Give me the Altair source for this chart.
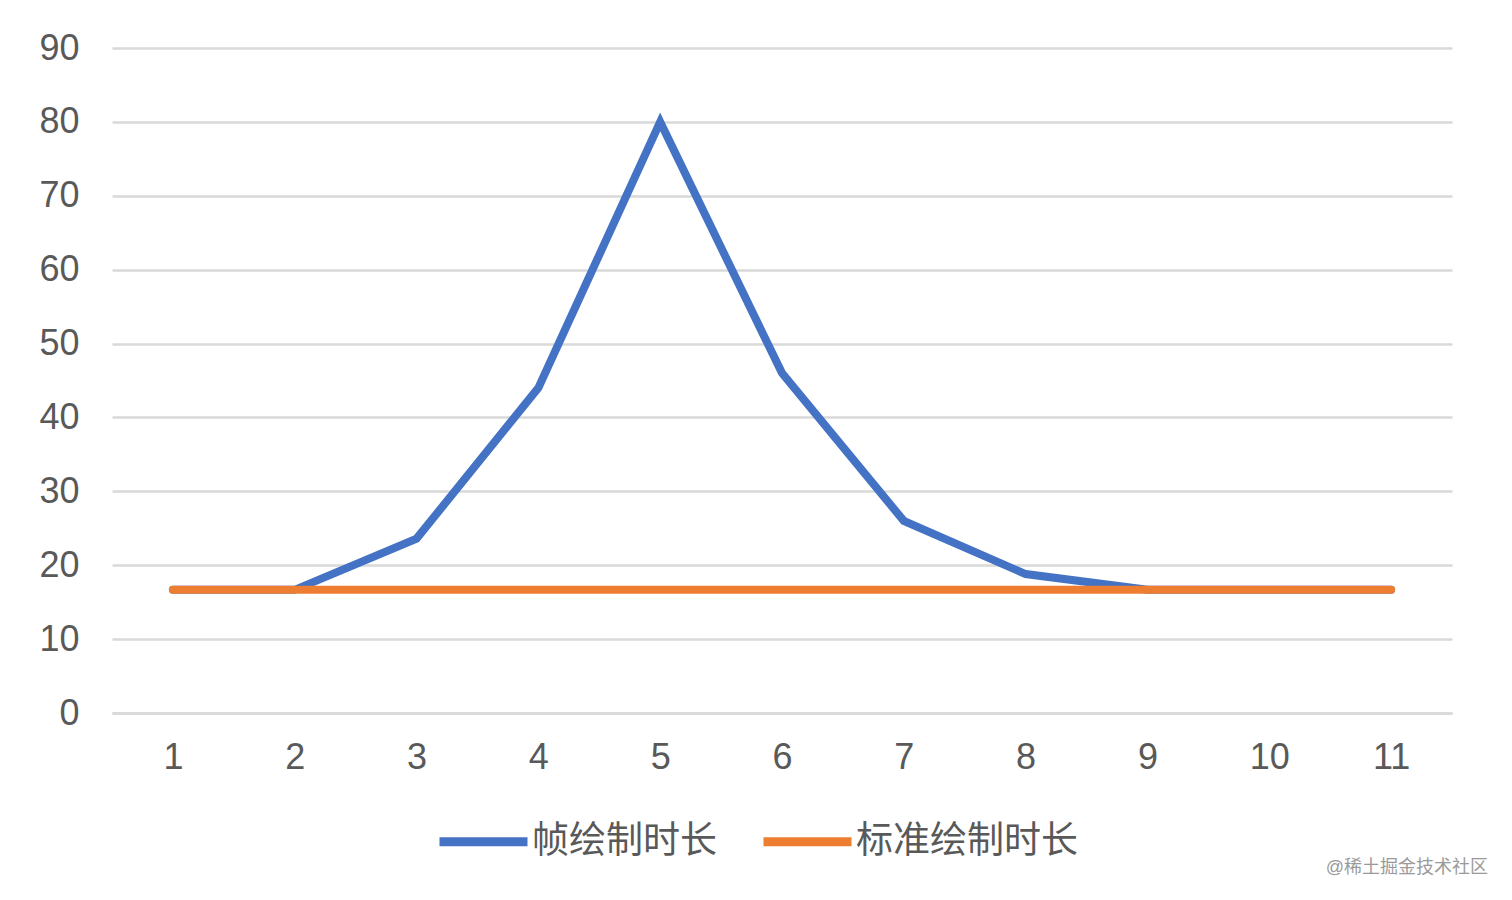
import altair as alt
import pandas as pd

frames = [str(i) for i in range(1, 12)]
frame_time = [16.67, 16.67, 23.6, 44.0, 80.0, 46.0, 26.0, 18.8, 16.67, 16.67, 16.67]
standard_time = [16.67] * 11
series_names = ["帧绘制时长", "标准绘制时长"]
series_colors = ["#4472C4", "#ED7D31"]

df_blue = pd.DataFrame({"frame": frames, "value": frame_time, "series": series_names[0]})
df_orange = pd.DataFrame({"frame": frames, "value": standard_time, "series": series_names[1]})

FONT = "Liberation Sans, Noto Sans CJK SC, sans-serif"

x_enc = alt.X("frame:O", sort=frames, scale=alt.Scale(type="point", padding=0.5),
              axis=alt.Axis(title=None, labelAngle=0, ticks=False, labelPadding=27,
                            labelFontSize=36, labelColor="#595959", labelFont=FONT,
                            domainColor="#d9d9d9", domainWidth=2.5, grid=False))
y_enc = alt.Y("value:Q", scale=alt.Scale(domain=[0, 90]),
              axis=alt.Axis(title=None, values=list(range(0, 100, 10)), ticks=False, domain=False,
                            labelPadding=33, labelFontSize=36, labelColor="#595959", labelFont=FONT,
                            gridColor="#d9d9d9", gridWidth=2.5))
color_enc = alt.Color("series:N", scale=alt.Scale(domain=series_names, range=series_colors),
                      legend=alt.Legend(title=None, orient="none", direction="horizontal",
                                        legendX=323, legendY=745, padding=0, symbolType="stroke",
                                        symbolSize=7744, symbolStrokeWidth=9,
                                        labelFontSize=37, labelColor="#595959", labelFont=FONT,
                                        labelOffset=0, columnPadding=28, labelLimit=400))

blue = alt.Chart(df_blue).mark_line(strokeWidth=8, strokeJoin="miter", strokeCap="round").encode(
    x=x_enc, y=y_enc, color=color_enc)
orange = alt.Chart(df_orange).mark_line(strokeWidth=8, strokeCap="round").encode(
    x=x_enc, y=y_enc, color=color_enc)

watermark = alt.Chart(pd.DataFrame({"t": ["@稀土掘金技术社区"]})).mark_text(
    align="right", baseline="middle", fontSize=18, color="#9a9a9a", font=FONT
).encode(text="t:N", x=alt.value(1376), y=alt.value(820))

chart = alt.layer(blue, orange, watermark).properties(
    width=1340, height=665,
    background="white",
    autosize=alt.AutoSizeParams(type="none"),
    padding={"left": 104, "top": 40, "right": 44, "bottom": 170},
).configure_view(stroke="transparent", strokeWidth=0)

chart.save("out.html", embed_options={"renderer": "svg", "actions": False})
